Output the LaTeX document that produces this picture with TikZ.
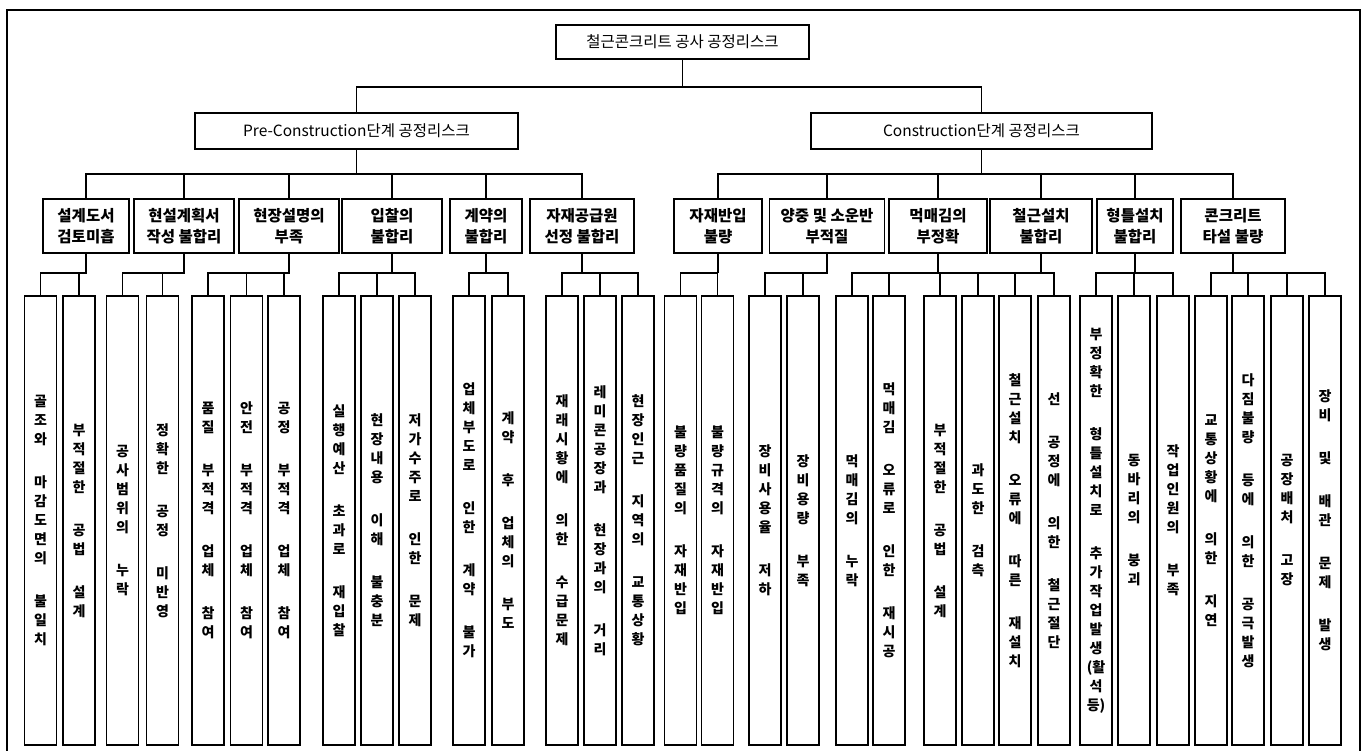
\documentclass[tikz,border=0pt]{standalone}
\usepackage{fontspec}
\setmainfont{Noto Sans CJK KR}
\usetikzlibrary{calc}
\ExplSyntaxOn
\NewDocumentCommand \vt { m }
 {
  \seq_set_split:Nnn \l_tmpa_seq { ~ } { #1 }
  \vbox:n
   {
    \skip_set:Nn \baselineskip { 19pt }
    \dim_set:Nn \lineskiplimit { -100pt }
    \bool_set_true:N \l_tmpa_bool
    \seq_map_inline:Nn \l_tmpa_seq
     {
      \bool_if:NF \l_tmpa_bool { \skip_vertical:n { 24pt } }
      \bool_set_false:N \l_tmpa_bool
      \tl_map_inline:nn { ##1 } { \hbox_to_wd:nn { 24pt } { \hss ####1 \hss } }
     }
   }
 }
\ExplSyntaxOff
\tikzset{
  box/.style={draw, line width=1.2pt, inner sep=0pt, align=center},
  topbox/.style={box, font=\fontsize{15.5}{18}\selectfont, minimum height=34pt},
  midbox/.style={box, font=\bfseries\fontsize{15.5}{20.5}\selectfont, minimum height=54pt},
  leaf/.style={box, font=\bfseries\fontsize{14}{19}\selectfont, minimum width=32pt, minimum height=449pt},
  conn/.style={line width=1.1pt},
  frame/.style={line width=1.2pt}
}
\begin{document}
\begin{tikzpicture}[x=1pt,y=-1pt]
\useasboundingbox (0,0) rectangle (1367,751);
\draw[frame] (7,751) -- (7,10) -- (1360,10) -- (1360,751);
\coordinate (bus0) at (0,87);
\coordinate (bus1) at (0,174);
\coordinate (bus2) at (0,273);
% top levels
\node[topbox, minimum width=253pt] (top) at (682.5,42) {철근콘크리트 공사 공정리스크};
\node[topbox, minimum width=323pt, minimum height=36pt] (pre) at (356.5,131) {Pre-Construction단계 공정리스크};
\node[topbox, minimum width=341pt, minimum height=36pt] (con) at (981.5,131) {Construction단계 공정리스크};
% level 2
\node[midbox, minimum width=86pt]  (a1) at (86,226)  {설계도서\\검토미흡};
\node[midbox, minimum width=100pt] (a2) at (184,226) {현설계획서\\작성 불합리};
\node[midbox, minimum width=100pt] (a3) at (289,226) {현장설명의\\부족};
\node[midbox, minimum width=100pt] (a4) at (392,226) {입찰의\\불합리};
\node[midbox, minimum width=72pt]  (a5) at (486,226) {계약의\\불합리};
\node[midbox, minimum width=104pt] (a6) at (582,226) {자재공급원\\선정 불합리};
\node[midbox, minimum width=88pt]  (c1) at (718,226) {자재반입\\불량};
\node[midbox, minimum width=115pt] (c2) at (827,226) {양중 및 소운반\\부적질};
\node[midbox, minimum width=98pt]  (c3) at (938,226) {먹매김의\\부정확};
\node[midbox, minimum width=102pt] (c4) at (1041,226) {철근설치\\불합리};
\node[midbox, minimum width=76pt]  (c5) at (1135,226) {형틀설치\\불합리};
\node[midbox, minimum width=104pt] (c6) at (1233,226) {콘크리트\\타설 불량};
% leaves
\node[leaf] (l1)  at (40.5,520.5)  {\vt{골조와 마감도면의 불일치}};
\node[leaf] (l2)  at (79,520.5)    {\vt{부적절한 공법 설계}};
\node[leaf] (l3)  at (122.5,520.5) {\vt{공사범위의 누락}};
\node[leaf] (l4)  at (162.5,520.5) {\vt{정확한 공정 미반영}};
\node[leaf] (l5)  at (208,520.5)   {\vt{품질 부적격 업체 참여}};
\node[leaf] (l6)  at (246.5,520.5) {\vt{안전 부적격 업체 참여}};
\node[leaf] (l7)  at (284,520.5)   {\vt{공정 부적격 업체 참여}};
\node[leaf] (l8)  at (339,520.5)   {\vt{실행예산 초과로 재입찰}};
\node[leaf] (l9)  at (377,520.5)   {\vt{현장내용 이해 불충분}};
\node[leaf] (l10) at (415,520.5)   {\vt{저가수주로 인한 문제}};
\node[leaf] (l11) at (469,520.5)   {\vt{업체부도로 인한 계약 불가}};
\node[leaf] (l12) at (508,520.5)   {\vt{계약 후 업체의 부도}};
\node[leaf] (l13) at (562,520.5)   {\vt{재래시황에 의한 수급문제}};
\node[leaf] (l14) at (600,520.5)   {\vt{레미콘공장과 현장과의 거리}};
\node[leaf] (l15) at (638,520.5)   {\vt{현장인근 지역의 교통상황}};
\node[leaf] (r1)  at (680.5,520.5) {\vt{불량품질의 자재반입}};
\node[leaf] (r2)  at (717.5,520.5) {\vt{불량규격의 자재반입}};
\node[leaf] (r3)  at (765,520.5)   {\vt{장비사용율 저하}};
\node[leaf] (r4)  at (803,520.5)   {\vt{장비용량 부족}};
\node[leaf] (r5)  at (852,520.5)   {\vt{먹매김의 누락}};
\node[leaf] (r6)  at (889,520.5)   {\vt{먹매김 오류로 인한 재시공}};
\node[leaf] (r7)  at (940,520.5)   {\vt{부적절한 공법 설계}};
\node[leaf] (r8)  at (978,520.5)   {\vt{과도한 검측}};
\node[leaf] (r9)  at (1015,520.5)  {\vt{철근설치 오류에 따른 재설치}};
\node[leaf] (r10) at (1054,520.5)  {\vt{선 공정에 의한 철근절단}};
\node[leaf] (r11) at (1096,520.5)  {\vt{부정확한 형틀설치로 추가작업발생{(활}석{등)}}};
\node[leaf] (r12) at (1134,520.5)  {\vt{동바리의 붕괴}};
\node[leaf] (r13) at (1173,520.5)  {\vt{작업인원의 부족}};
\node[leaf] (r14) at (1211,520.5)  {\vt{교통상황에 의한 지연}};
\node[leaf] (r15) at (1248,520.5)  {\vt{다짐불량 등에 의한 공극발생}};
\node[leaf] (r16) at (1287,520.5)  {\vt{공장배처 고장}};
\node[leaf] (r17) at (1325,520.5)  {\vt{장비 및 배관 문제 발생}};
% connectors: top level
\draw[conn] (top.south) -- (top.south |- bus0);
\draw[conn] (pre.north) -- (pre.north |- bus0) -- (con.north |- bus0) -- (con.north);
% level 1 to level 2
\draw[conn] (pre.south) -- (pre.south |- bus1);
\draw[conn] (a1.north) -- (a1.north |- bus1) -- (a6.north |- bus1) -- (a6.north);
\foreach \n in {a2,a3,a4,a5} \draw[conn] (\n.north) -- (\n.north |- bus1);
\draw[conn] (con.south) -- (con.south |- bus1);
\draw[conn] (c1.north) -- (c1.north |- bus1) -- (c6.north |- bus1) -- (c6.north);
\foreach \n in {c2,c3,c4,c5} \draw[conn] (\n.north) -- (\n.north |- bus1);
% level 2 to leaves
\draw[conn] (a1.south) -- (a1.south |- bus2) -- (l1.north |- bus2) -- (l1.north);
\draw[conn] (l2.north) -- (l2.north |- bus2);
\draw[conn] (a2.south) -- (a2.south |- bus2) -- (l3.north |- bus2) -- (l3.north);
\draw[conn] (l4.north) -- (l4.north |- bus2);
\draw[conn] (a3.south) -- (a3.south |- bus2) -- (l5.north |- bus2) -- (l5.north);
\foreach \n in {l6,l7} \draw[conn] (\n.north) -- (\n.north |- bus2);
\draw[conn] (l8.north) -- (l8.north |- bus2) -- (l10.north |- bus2) -- (l10.north);
\foreach \n in {a4} \draw[conn] (\n.south) -- (\n.south |- bus2);
\draw[conn] (l9.north) -- (l9.north |- bus2);
\draw[conn] (l11.north) -- (l11.north |- bus2) -- (l12.north |- bus2) -- (l12.north);
\draw[conn] (a5.south) -- (a5.south |- bus2);
\draw[conn] (l13.north) -- (l13.north |- bus2) -- (l15.north |- bus2) -- (l15.north);
\draw[conn] (a6.south) -- (a6.south |- bus2);
\draw[conn] (l14.north) -- (l14.north |- bus2);
\draw[conn] (r1.north) -- (r1.north |- bus2) -- (r2.north |- bus2) -- (r2.north);
\draw[conn] (c1.south) -- (c1.south |- bus2);
\draw[conn] (c2.south) -- (c2.south |- bus2) -- (r3.north |- bus2) -- (r3.north);
\draw[conn] (r4.north) -- (r4.north |- bus2);
\draw[conn] (r5.north) -- (r5.north |- bus2) -- (r9.north |- bus2) -- (r9.north);
\draw[conn] (c3.south) -- (c3.south |- bus2);
\foreach \n in {r6,r7,r8} \draw[conn] (\n.north) -- (\n.north |- bus2);
\draw[conn] (r9.north |- bus2) -- (r10.north |- bus2) -- (r10.north);
\draw[conn] (c4.south) -- (c4.south |- bus2);
\draw[conn] (r11.north) -- (r11.north |- bus2) -- (r13.north |- bus2) -- (r13.north);
\draw[conn] (c5.south) -- (c5.south |- bus2);
\draw[conn] (r12.north) -- (r12.north |- bus2);
\draw[conn] (r14.north) -- (r14.north |- bus2) -- (r17.north |- bus2) -- (r17.north);
\draw[conn] (c6.south) -- (c6.south |- bus2);
\foreach \n in {r15,r16} \draw[conn] (\n.north) -- (\n.north |- bus2);
\end{tikzpicture}
\end{document}
